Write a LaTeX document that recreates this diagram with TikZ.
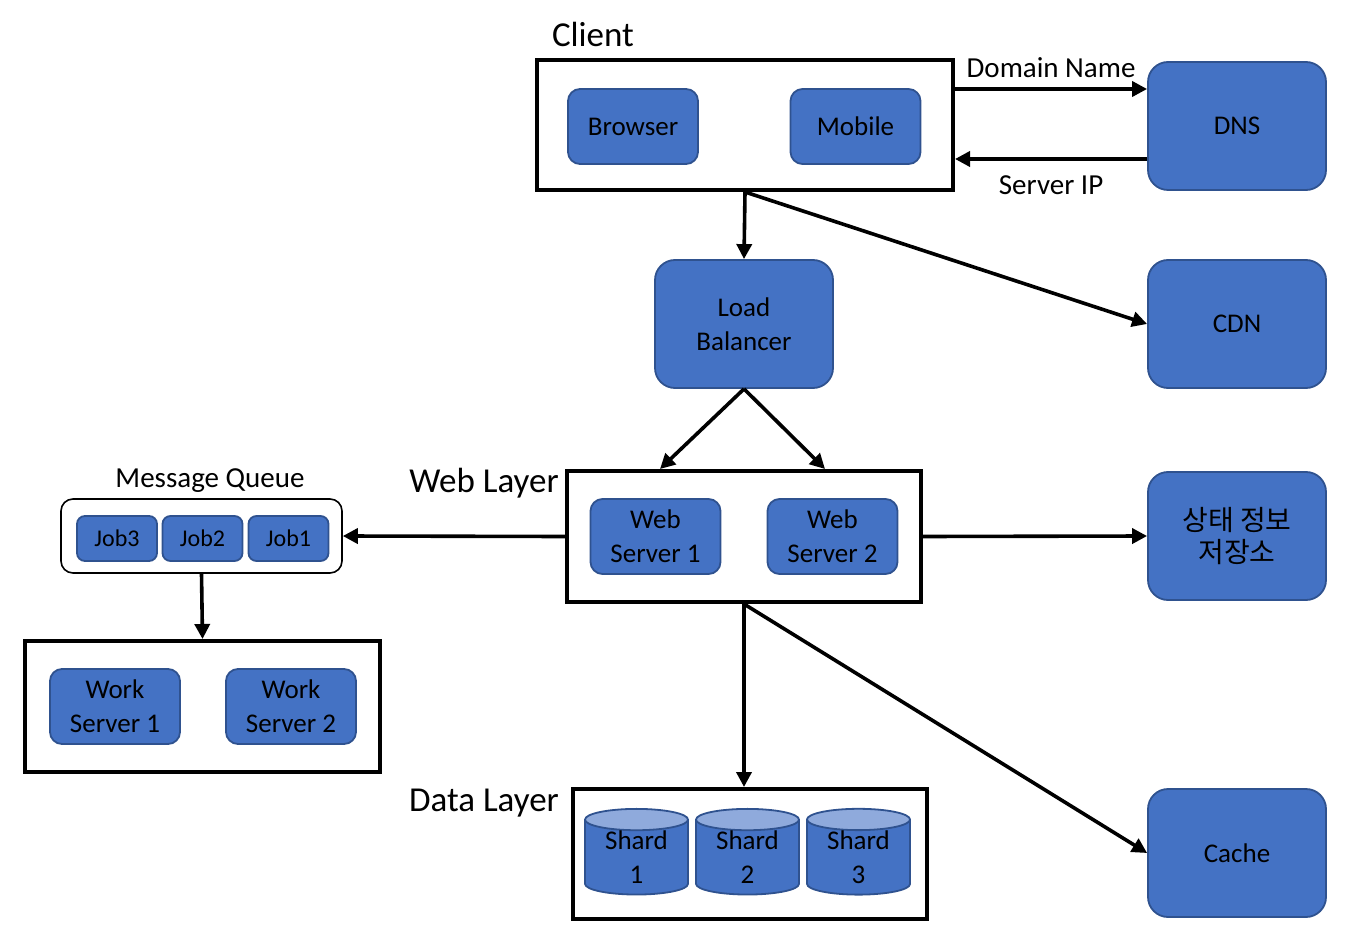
\documentclass[tikz,border=0pt]{standalone}
\usepackage{fontspec}
\setmainfont{Carlito}
\newfontfamily\krfont{Noto Sans CJK KR}
\usetikzlibrary{arrows.meta,positioning,shapes.geometric}
\definecolor{boxblue}{HTML}{4472C4}
\definecolor{boxedge}{HTML}{2F528F}
\definecolor{disktop}{HTML}{8FAADC}

\begin{document}
\begin{tikzpicture}[x=0.5pt,y=-0.5pt]

\tikzset{comp/.style={draw=boxedge, line width=0.9pt, fill=boxblue, align=center, inner sep=1pt, font=\fontsize{13.5}{17}\selectfont},
  bigcomp/.style={comp, rounded corners=10pt, minimum width=89pt, minimum height=64pt},
  smallcomp/.style={comp, rounded corners=6pt, minimum width=65pt, minimum height=37.5pt},
  jobbox/.style={comp, rounded corners=4pt, minimum width=40pt, minimum height=22.5pt, font=\fontsize{12}{14}\selectfont},
  group/.style={draw, line width=2pt, minimum width=177pt, minimum height=65.5pt},
  grouplabel/.style={font=\fontsize{17.5}{20}\selectfont},
  shard/.style={cylinder, shape border rotate=90, aspect=0.34, draw=boxedge, line width=0.9pt,
    cylinder uses custom fill, cylinder body fill=boxblue, cylinder end fill=disktop,
    minimum width=51.5pt, minimum height=38pt, align=center, inner sep=0pt, font=\fontsize{13.5}{17}\selectfont},
  arr/.style={-{Triangle[length=7.5pt,width=7.5pt]}, line width=1.8pt},
  arrlabel/.style={font=\fontsize{14.5}{17}\selectfont}}

\useasboundingbox (0,0) rectangle (1348,930);

% groups
\node[group, minimum width=208pt, minimum height=65pt] (client) at (745,125) {};
\node[group] (web) at (744,536.5) {};
\node[group, minimum width=177.5pt] (work) at (202.5,706.5) {};
\node[group, minimum height=65pt] (data) at (750,854) {};
\node[draw, line width=0.8pt, rounded corners=6pt, minimum width=140.5pt, minimum height=37pt] (mq) at (201.5,536) {};

\node[grouplabel] (clientlabel) at (593,34) {Client};
\node[grouplabel] (weblabel) at (484,483) {Web Layer};
\node[grouplabel] (datalabel) at (484,803) {Data Layer};
\node[arrlabel] (mqlabel) at (210,481) {Message Queue};

% components
\node[smallcomp] (browser) at (633,126.5) {Browser};
\node[smallcomp] (mobile) at (855.5,126.5) {Mobile};
\node[bigcomp] (dns) at (1237,126) {DNS};
\node[bigcomp] (cdn) at (1237,324) {CDN};
\node[bigcomp] (lb) at (744,324) {Load\\Balancer};
\node[smallcomp] (ws1) at (655.5,536.5) {Web\\Server 1};
\node[smallcomp] (ws2) at (832.5,536.5) {Web\\Server 2};
\node[bigcomp, font=\krfont\fontsize{14}{16}\selectfont] (state) at (1237,536) {상태 정보\\저장소};
\node[bigcomp] (cache) at (1237,853) {Cache};
\node[jobbox] (job3) at (117,538.5) {Job3};
\node[jobbox] (job2) at (202.5,538.5) {Job2};
\node[jobbox] (job1) at (288.5,538.5) {Job1};
\node[smallcomp] (wk1) at (115,706.5) {Work\\Server 1};
\node[smallcomp] (wk2) at (291,706.5) {Work\\Server 2};
\node[shard] (shard1) at (636.5,857.5) {Shard\\1};
\node[shard] (shard2) at (747.5,857.5) {Shard\\2};
\node[shard] (shard3) at (858.5,857.5) {Shard\\3};

% connectors
\draw[arr] ([yshift=18pt]client.east) -- ([yshift=18pt]client.east -| dns.west)
  node[arrlabel, midway, above=1.5pt] {Domain Name};
\draw[arr] ([yshift=-16.5pt]dns.west) -- ([yshift=-16.5pt]dns.west -| client.east)
  node[arrlabel, midway, below=4pt] {Server IP};
\draw[arr] (client.south) -- (lb.north);
\draw[arr] (client.south) -- (cdn.west);
\draw[arr] (lb.south) -- ([xshift=-42pt]web.north);
\draw[arr] (lb.south) -- ([xshift=40.5pt]web.north);
\draw[arr] (web.east) -- (state.west);
\draw[arr] (web.west) -- (mq.east);
\draw[arr] (mq.south) -- (work.north);
\draw[arr] (web.south) -- (web.south |- data.north);
\draw[arr] (web.south) -- (cache.west);

\end{tikzpicture}
\end{document}
